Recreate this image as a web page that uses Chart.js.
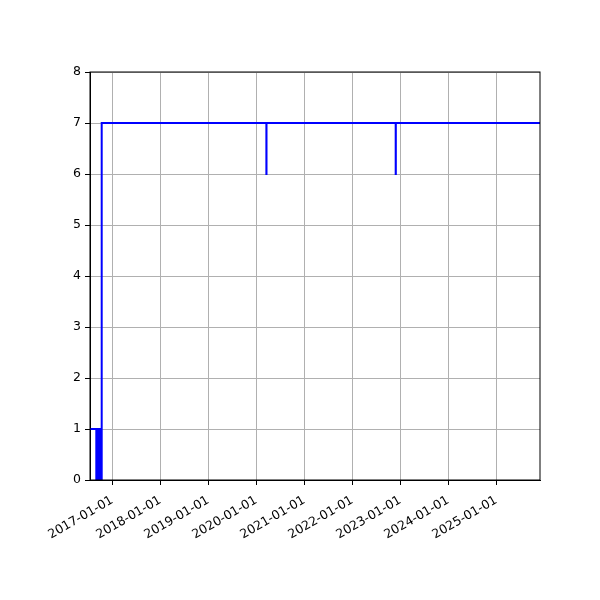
<!DOCTYPE html>
<html>
<head>
<meta charset="utf-8">
<script src="https://cdn.jsdelivr.net/npm/chart.js@4"></script>
<style>
  body { margin: 0; background: #fff; }
</style>
</head>
<body>
<canvas id="stepChart" width="600" height="600"></canvas>
<script>
// change points (value holds until the next date)
const dates = ["2016-07-15", "2016-09-01", "2016-09-05", "2016-09-09", "2016-09-13",
    "2016-09-17", "2016-09-21", "2016-09-25", "2016-09-29", "2016-10-03", "2016-10-12",
    "2020-03-18", "2020-03-19", "2022-11-27", "2022-11-28", "2025-11-29"];
const values = [1, 0, 1, 0, 1,
    0, 1, 0, 1, 0, 7,
    6, 7, 6, 7, 7];
const xTickDates = ["2017-01-01", "2018-01-01", "2019-01-01", "2020-01-01", "2021-01-01",
    "2022-01-01", "2023-01-01", "2024-01-01", "2025-01-01"];
const yTicks = [0, 1, 2, 3, 4, 5, 6, 7, 8];

function toMs(s) {
    const p = s.split("-");
    return Date.UTC(+p[0], +p[1] - 1, +p[2]);
}
function fmt(ms) {
    const d = new Date(ms);
    const mm = String(d.getUTCMonth() + 1).padStart(2, "0");
    const dd = String(d.getUTCDate()).padStart(2, "0");
    return d.getUTCFullYear() + "-" + mm + "-" + dd;
}

renderStepChart();

function renderStepChart() {
    const points = dates.map((d, i) => ({ x: toMs(d), y: values[i] }));
    const frame = {
        id: 'frame',
        afterDraw(chart) {
            const a = chart.chartArea;
            const ctx = chart.ctx;
            ctx.save();
            ctx.strokeStyle = '#000';
            ctx.lineWidth = 1;
            ctx.strokeRect(a.left, a.top, a.right - a.left, a.bottom - a.top);
            ctx.restore();
        }
    };
    const font = { family: 'DejaVu Sans', size: 12.5 };
    const config = {
        type: 'line',
        data: {
            datasets: [{
                data: points,
                stepped: 'before',
                borderColor: '#0000ff',
                borderWidth: 2,
                pointRadius: 0,
                fill: false
            }]
        },
        options: {
            responsive: false,
            animation: false,
            layout: { padding: { top: 72, right: 60, left: 0, bottom: 0 } },
            scales: {
                x: {
                    type: 'linear',
                    min: toMs(dates[0]),
                    max: toMs(dates[dates.length - 1]),
                    afterBuildTicks(axis) {
                        axis.ticks = xTickDates.map(d => ({ value: toMs(d) }));
                    },
                    afterFit(axis) { axis.height = 120; },
                    ticks: {
                        callback: v => fmt(v),
                        minRotation: 30,
                        maxRotation: 30,
                        autoSkip: false,
                        color: '#000',
                        font: font,
                        padding: 8
                    },
                    grid: { color: '#b0b0b0', lineWidth: 1, tickColor: '#000', tickLength: 5 },
                    border: { color: '#000' }
                },
                y: {
                    min: 0,
                    max: 8,
                    afterBuildTicks(axis) {
                        axis.ticks = yTicks.map(v => ({ value: v }));
                    },
                    afterFit(axis) { axis.width = 90; },
                    ticks: { color: '#000', font: font, padding: 4 },
                    grid: { color: '#b0b0b0', lineWidth: 1, tickColor: '#000', tickLength: 5 },
                    border: { color: '#000' }
                }
            },
            plugins: {
                legend: { display: false },
                tooltip: { enabled: false }
            }
        },
        plugins: [frame]
    };
    var myChart = new Chart(document.getElementById('stepChart'), config);
}
</script>
</body>
</html>
